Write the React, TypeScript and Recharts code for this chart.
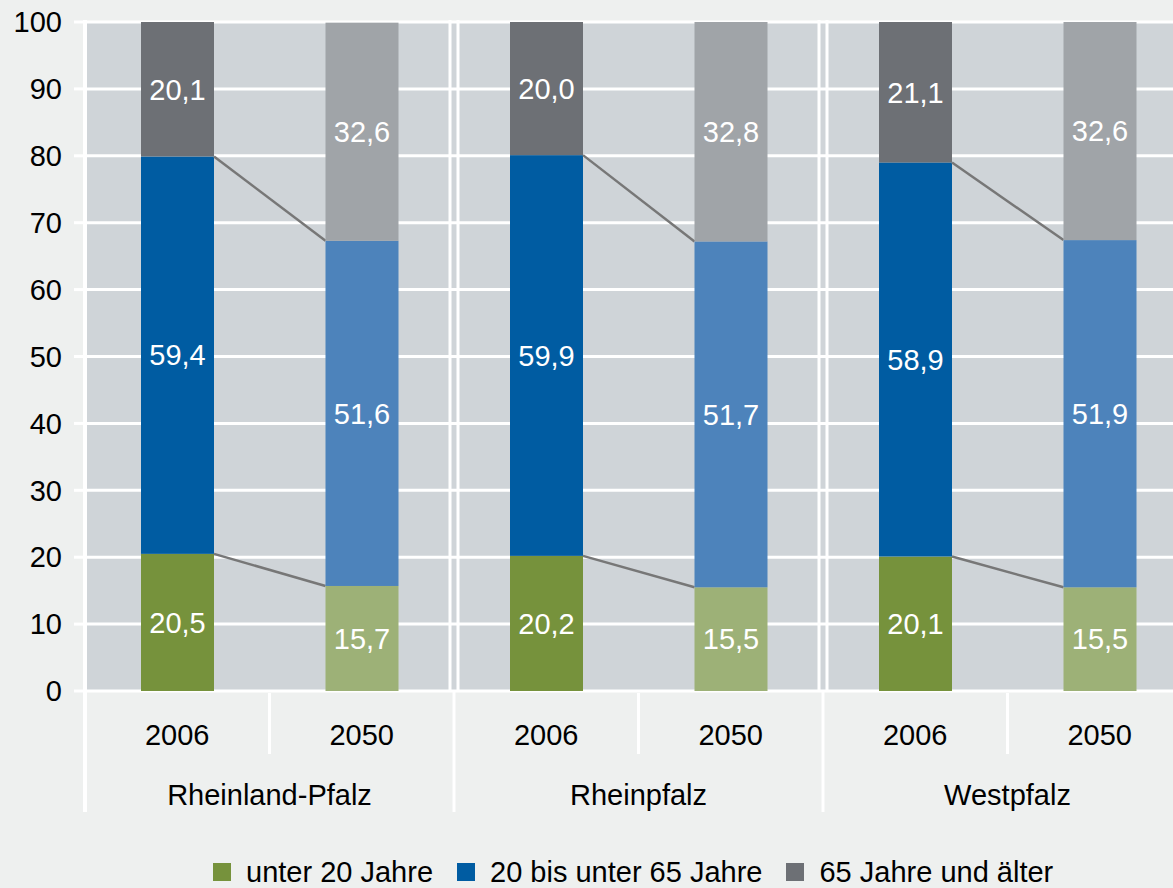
import React from "react"
import { BarChart, Bar, XAxis, YAxis, CartesianGrid, LabelList, Legend } from "recharts"

// Bevölkerung nach Altersgruppen, Anteile in %
const regions = ["Rheinland-Pfalz", "Rheinpfalz", "Westpfalz"]
const years = ["2006", "2050"]
const under20 = [20.5, 15.7, 20.2, 15.5, 20.1, 15.5]
const age20to65 = [59.4, 51.6, 59.9, 51.7, 58.9, 51.9]
const age65plus = [20.1, 32.6, 20.0, 32.8, 21.1, 32.6]
const yTicks = [0, 10, 20, 30, 40, 50, 60, 70, 80, 90, 100]

const seriesKeys = ["young", "mid", "old"]
const seriesNames = ["unter 20 Jahre", "20 bis unter 65 Jahre", "65 Jahre und älter"]
const colors2006 = ["#76923c", "#005ca2", "#6d7075"]
const colors2050 = ["#9db177", "#4d83bb", "#a0a4a8"]

const data = regions.flatMap((region, r) =>
  years.map((year, j) => {
    const i = r * years.length + j
    return { id: `${region} ${year}`, region, year, young: under20[i], mid: age20to65[i], old: age65plus[i] }
  })
)

const FONT = "'Liberation Sans', Arial, Helvetica, sans-serif"
const CHART_W = 1200
const CHART_H = 888
const Y_AXIS_W = 85
const MARGIN = { top: 22, right: 8, left: 0, bottom: 0 }
const X_AXIS_H = 197
const PLOT_H = CHART_H - MARGIN.top - MARGIN.bottom - X_AXIS_H
const BAND = (CHART_W - Y_AXIS_W - MARGIN.left - MARGIN.right) / data.length

const fmt = (v: any) => Number(v).toFixed(1).replace(".", ",")

// bar segment + Excel-style series line to the next bar of the same region
function makeShape(k: number) {
  return (props: any) => {
    const { x, y, width, height, index } = props
    const row: any = data[index]
    const next: any = data[index + 1]
    const fill = index % 2 === 0 ? colors2006[k] : colors2050[k]
    let line = null
    if (k < 2 && index % 2 === 0 && next && height > 0) {
      const ppu = height / row[seriesKeys[k]]
      const below = seriesKeys.slice(0, k).reduce((s, kk) => s + row[kk], 0)
      const zeroY = y + height + below * ppu
      const nextCum = seriesKeys.slice(0, k + 1).reduce((s, kk) => s + next[kk], 0)
      line = (
        <line x1={x + width} y1={y} x2={x + BAND} y2={zeroY - nextCum * ppu} stroke="#777" strokeWidth={2.5} />
      )
    }
    return (
      <g>
        <rect x={x} y={y} width={width} height={height} fill={fill} />
        {line}
      </g>
    )
  }
}

function XTick(props: any) {
  const { x, y, payload } = props
  const i = payload.index
  const row = data[i]
  const half = BAND / 2
  const bx = x + half
  return (
    <g>
      {i === 0 && (
        <line x1={x - half} y1={y - PLOT_H - 2} x2={x - half} y2={y + 121} stroke="#fff" strokeWidth={4} />
      )}
      <text x={x} y={y + 44} textAnchor="middle" dominantBaseline="central" fill="#000" fontSize={29} fontFamily={FONT}>
        {row.year}
      </text>
      {i % 2 === 0 ? (
        <>
          <line x1={bx} y1={y + 2} x2={bx} y2={y + 63} stroke="#fff" strokeWidth={3} />
          <text x={bx} y={y + 104} textAnchor="middle" dominantBaseline="central" fill="#000" fontSize={29} fontFamily={FONT}>
            {row.region}
          </text>
        </>
      ) : (
        <>
          <line x1={bx - 4} y1={y - PLOT_H - 2} x2={bx - 4} y2={y} stroke="#fff" strokeWidth={3} />
          <line x1={bx + 4} y1={y - PLOT_H - 2} x2={bx + 4} y2={y} stroke="#fff" strokeWidth={3} />
          <line x1={bx} y1={y} x2={bx} y2={y + 121} stroke="#fff" strokeWidth={3} />
        </>
      )}
    </g>
  )
}

function renderLegend(props: any) {
  const items = [...(props.payload || [])].sort(
    (a: any, b: any) => seriesNames.indexOf(a.value) - seriesNames.indexOf(b.value)
  )
  return (
    <div style={{ display: "flex", alignItems: "center", height: 30, paddingLeft: 213, fontFamily: FONT }}>
      {items.map((entry: any, idx: number) => (
        <div key={idx} style={{ display: "flex", alignItems: "center", marginRight: 24, height: 30 }}>
          <span style={{ display: "inline-block", width: 18, height: 18, background: entry.color, marginRight: 15 }} />
          <span style={{ fontSize: 29, color: "#000", lineHeight: "30px", whiteSpace: "nowrap" }}>{entry.value}</span>
        </div>
      ))}
    </div>
  )
}

export default function App() {
  return (
    <div
      style={{
        position: "fixed",
        top: 0,
        left: 0,
        width: 1173,
        height: 888,
        overflow: "hidden",
        background: "#eef0ef",
        fontFamily: FONT,
      }}
    >
      <BarChart width={CHART_W} height={CHART_H} data={data} margin={MARGIN} barSize={73}>
        <CartesianGrid vertical={false} stroke="#fff" strokeWidth={3} fill="#cfd4d8" fillOpacity={1} />
        {seriesKeys.map((k, idx) => (
          <Bar
            key={k}
            dataKey={k}
            name={seriesNames[idx]}
            stackId="a"
            fill={colors2006[idx]}
            shape={makeShape(idx)}
            isAnimationActive={false}
          >
            <LabelList dataKey={k} position="center" fill="#fff" fontSize={29} fontFamily={FONT} formatter={fmt} />
          </Bar>
        ))}
        <XAxis
          dataKey="id"
          height={X_AXIS_H}
          axisLine={false}
          tickLine={false}
          tickSize={0}
          tickMargin={0}
          interval={0}
          tick={<XTick />}
        />
        <YAxis
          width={Y_AXIS_W}
          domain={[0, 100]}
          allowDataOverflow
          ticks={yTicks}
          interval={0}
          axisLine={false}
          tickSize={11}
          tickMargin={12}
          tickLine={{ stroke: "#fff", strokeWidth: 3 }}
          tick={{ fill: "#000", fontSize: 29, fontFamily: FONT }}
        />
        <Legend
          layout="horizontal"
          verticalAlign="middle"
          align="center"
          wrapperStyle={{ top: 857, left: 0, width: CHART_W, height: 30 }}
          content={renderLegend}
        />
      </BarChart>
    </div>
  )
}
